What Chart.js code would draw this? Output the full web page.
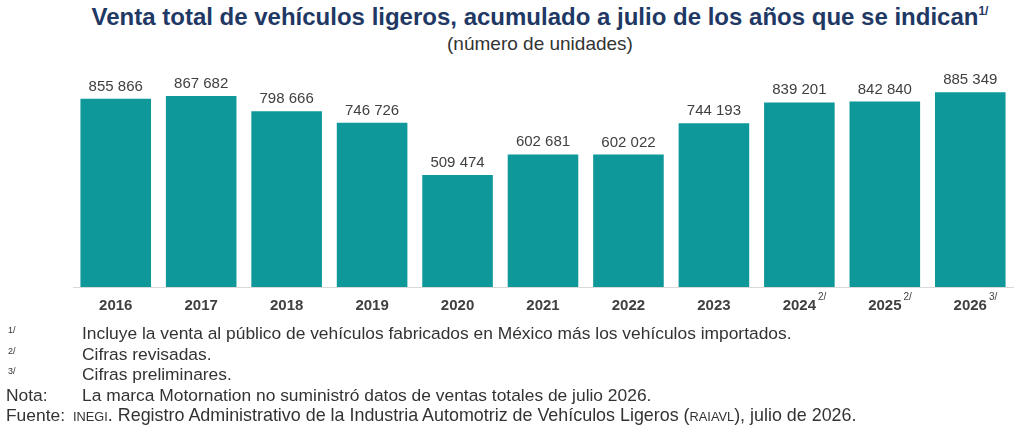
<!DOCTYPE html>
<html lang="es">
<head>
  <meta charset="UTF-8">
  <title>Venta total de vehículos ligeros</title>
  <script src="https://cdn.jsdelivr.net/npm/chart.js"></script>
  <style>
    body {
      margin: 0;
      width: 1024px;
      height: 433px;
      overflow: hidden;
      background: #fff;
      font-family: "Liberation Sans", Arial, sans-serif;
      position: relative;
    }
    .titulo {
      position: absolute;
      top: 3px;
      left: 56px;
      width: 968px;
      text-align: center;
      font-size: 24px;
      line-height: 28px;
      font-weight: bold;
      color: #1f3864;
      white-space: nowrap;
    }
    .titulo sup { font-size: 12px; vertical-align: 10px; line-height: 0; }
    .subtitulo {
      position: absolute;
      top: 33px;
      left: 56px;
      width: 968px;
      text-align: center;
      font-size: 19px;
      line-height: 22px;
      color: #333;
    }
    .grafica {
      position: absolute;
      left: 0;
      top: 0;
      width: 1024px;
      height: 328px;
    }
    .notas {
      position: absolute;
      left: 6px;
      top: 323px;
      font-size: 17.4px;
      line-height: 20.5px;
      color: #333;
    }
    .notas .fila { display: flex; white-space: nowrap; }
    .notas .ref { width: 76px; }
    .notas .ref sup { font-size: 9px; vertical-align: 6px; line-height: 0; margin-left: 2px; }
    .notas .chico { font-size: 12.8px; }
    .notas .fuente { font-size: 17.9px; }
  </style>
</head>
<body>
  <div class="titulo">Venta total de vehículos ligeros, acumulado a julio de los años que se indican<sup>1/</sup></div>
  <div class="subtitulo">(número de unidades)</div>
  <div class="grafica"><canvas id="ventas"></canvas></div>
  <div class="notas">
    <div class="fila"><span class="ref"><sup>1/</sup></span><span>Incluye la venta al público de vehículos fabricados en México más los vehículos importados.</span></div>
    <div class="fila"><span class="ref"><sup>2/</sup></span><span>Cifras revisadas.</span></div>
    <div class="fila"><span class="ref"><sup>3/</sup></span><span>Cifras preliminares.</span></div>
    <div class="fila"><span class="ref">Nota:</span><span>La marca Motornation no suministró datos de ventas totales de julio 2026.</span></div>
    <div class="fila"><span class="ref" style="width:67px">Fuente:</span><span class="fuente"><span class="chico">INEGI</span>. Registro Administrativo de la Industria Automotriz de Vehículos Ligeros (<span class="chico">RAIAVL</span>), julio de 2026.</span></div>
  </div>

  <script>
    const anios = ['2016', '2017', '2018', '2019', '2020', '2021', '2022', '2023', '2024', '2025', '2026'];
    const notasAnio = ['', '', '', '', '', '', '', '', '2/', '2/', '3/'];
    const ventas = [855866, 867682, 798666, 746726, 509474, 602681, 602022, 744193, 839201, 842840, 885349];

    // miles separados con espacio: 855 866
    function formato(n) {
      return String(n).replace(/\B(?=(\d{3})+(?!\d))/g, ' ');
    }

    const etiquetas = {
      id: 'etiquetas',
      afterDatasetsDraw(chart) {
        const ctx = chart.ctx;
        const meta = chart.getDatasetMeta(0);
        ctx.save();
        ctx.font = '15px "Liberation Sans", Arial, sans-serif';
        ctx.fillStyle = '#404040';
        ctx.textAlign = 'center';
        ctx.textBaseline = 'alphabetic';
        meta.data.forEach((bar, i) => {
          ctx.fillText(formato(ventas[i]), bar.x, bar.y - 8);
        });

        // superindices de los años
        const x = chart.scales.x;
        ctx.textAlign = 'left';
        ctx.textBaseline = 'top';
        notasAnio.forEach((nota, i) => {
          if (!nota) return;
          ctx.font = 'bold 15px "Liberation Sans", Arial, sans-serif';
          const w = ctx.measureText(anios[i]).width;
          ctx.font = '10px "Liberation Sans", Arial, sans-serif';
          ctx.fillText(nota, x.getPixelForValue(i) + w / 2 + 2, x.top + 5);
        });
        ctx.restore();
      }
    };

    new Chart(document.getElementById('ventas'), {
      type: 'bar',
      data: {
        labels: anios,
        datasets: [{
          data: ventas,
          backgroundColor: '#0f989a',
          borderWidth: 0,
          categoryPercentage: 1,
          barPercentage: 0.826
        }]
      },
      options: {
        responsive: true,
        maintainAspectRatio: false,
        animation: false,
        layout: { padding: { left: 73, right: 11, top: 67, bottom: 3 } },
        plugins: {
          legend: { display: false },
          tooltip: { enabled: false }
        },
        scales: {
          x: {
            grid: { display: false, drawTicks: false },
            border: { display: true, color: '#d9d9d9', width: 1 },
            ticks: {
              padding: 10,
              color: '#404040',
              font: { family: '"Liberation Sans", Arial, sans-serif', size: 15, weight: 'bold', lineHeight: 1.2 }
            }
          },
          y: {
            display: false,
            min: 0,
            max: 1000000
          }
        }
      },
      plugins: [etiquetas]
    });
  </script>
</body>
</html>
